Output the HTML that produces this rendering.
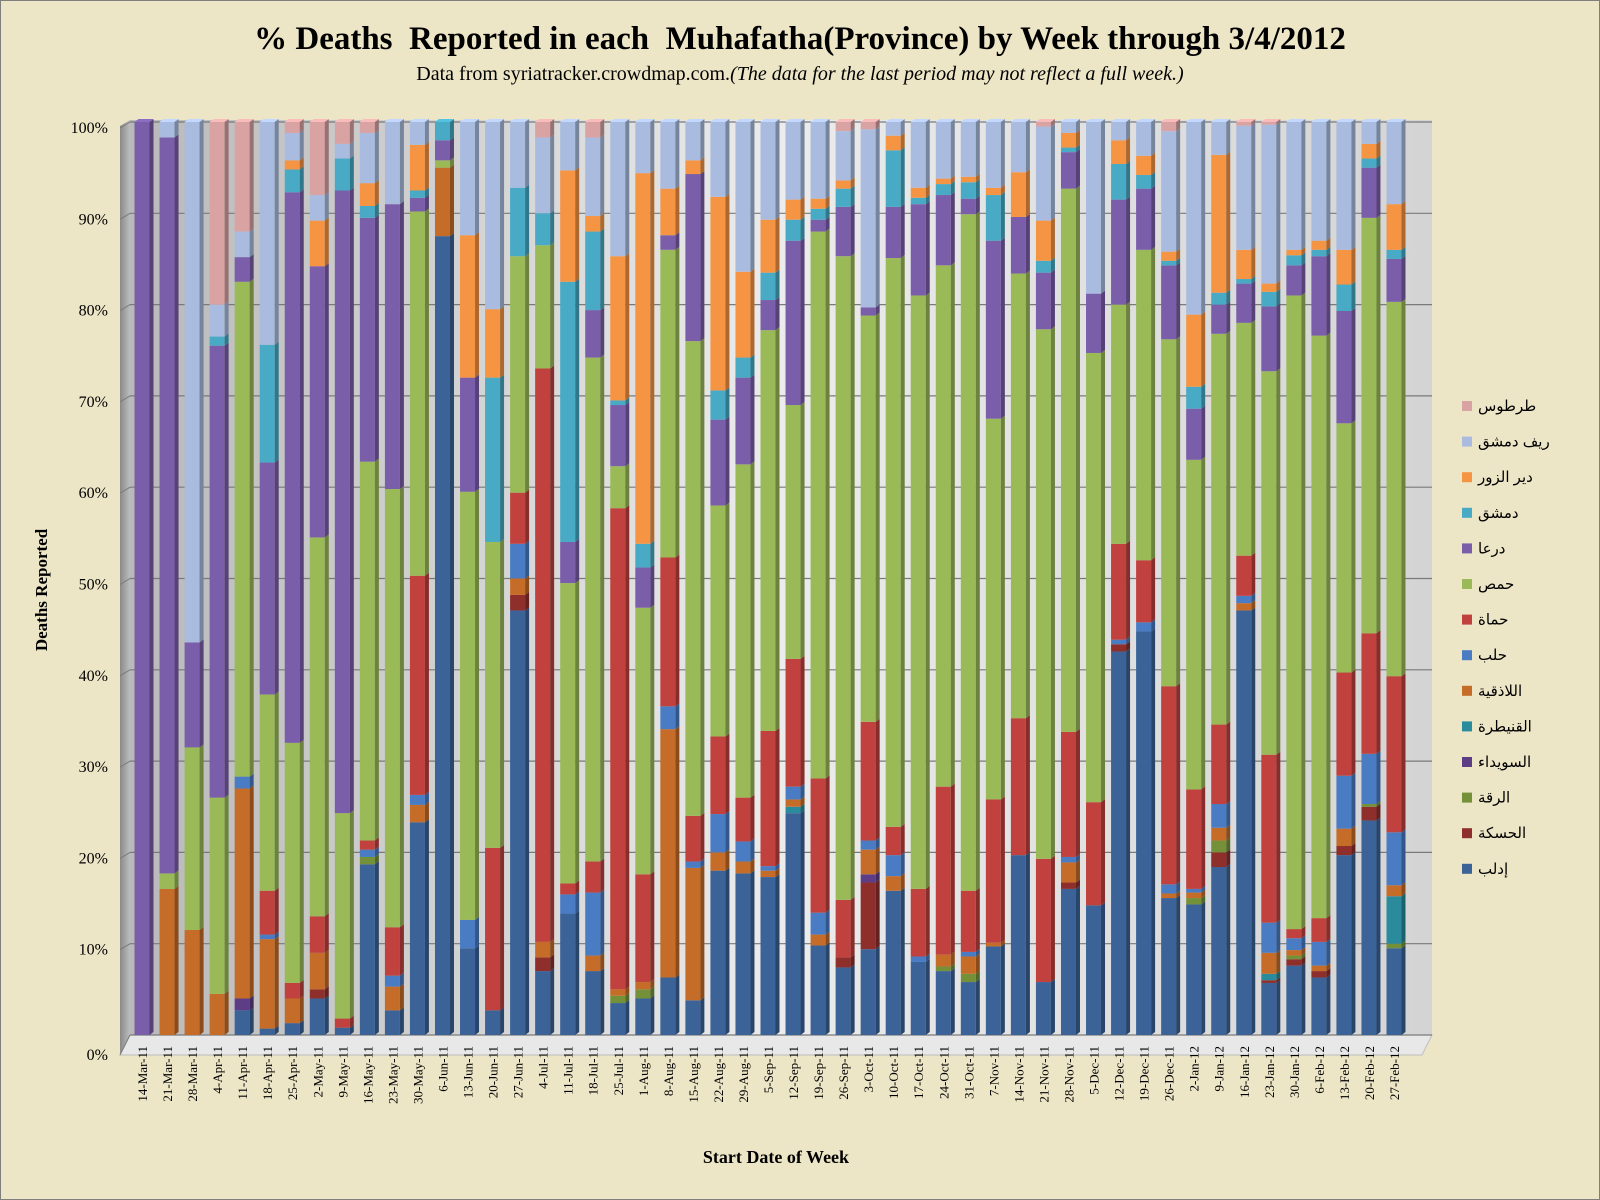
<!DOCTYPE html>
<html><head><meta charset="utf-8">
<style>
html,body{margin:0;padding:0;background:#ece5c6;}
svg{display:block;font-family:"Liberation Serif","DejaVu Serif",serif;}
.pre{white-space:pre;}
</style></head>
<body>
<svg id="chart" width="1600" height="1200" viewBox="0 0 1600 1200" xmlns="http://www.w3.org/2000/svg">
<defs>
<linearGradient id="wall" x1="0" y1="0" x2="1" y2="0">
<stop offset="0" stop-color="#b9b9b9"/><stop offset="0.5" stop-color="#ececec"/><stop offset="1" stop-color="#d4d4d4"/>
</linearGradient>
<linearGradient id="lwall" x1="0" y1="0" x2="1" y2="0">
<stop offset="0" stop-color="#8a8a8a"/><stop offset="1" stop-color="#bdbdbd"/>
</linearGradient>
</defs>
<rect x="0.5" y="0.5" width="1599" height="1199" fill="#ece5c6" stroke="#7f7f7f"/>
<text class="pre" x="800" y="49" text-anchor="middle" font-size="33" font-weight="bold" fill="#000">% Deaths  Reported in each  Muhafatha(Province) by Week through 3/4/2012</text>
<text x="800" y="80" text-anchor="middle" font-size="20" fill="#000">Data from syriatracker.crowdmap.com.<tspan font-style="italic">(The data for the last period may not reflect a full week.)</tspan></text>
<polygon points="120,126 130,120 130,1035 120,1055" fill="url(#lwall)"/>
<rect x="130" y="120" width="1302" height="915" fill="url(#wall)"/>
<polygon points="120,1055 130,1035 1432,1035 1422,1055" fill="#e8e8e8" stroke="#bdbdbd"/>
<g id="grid"></g>
<g id="yticks"></g>
<g id="bars"></g>
<g id="xticks"></g>
<g id="legend"></g>
<text transform="translate(47,590) rotate(-90)" text-anchor="middle" font-size="17" font-weight="bold">Deaths Reported</text>
<text x="776" y="1163" text-anchor="middle" font-size="18" font-weight="bold">Start Date of Week</text>
</svg>
<script>
const categories=["14-Mar-11","21-Mar-11","28-Mar-11","4-Apr-11","11-Apr-11","18-Apr-11","25-Apr-11","2-May-11","9-May-11","16-May-11","23-May-11","30-May-11","6-Jun-11","13-Jun-11","20-Jun-11","27-Jun-11","4-Jul-11","11-Jul-11","18-Jul-11","25-Jul-11","1-Aug-11","8-Aug-11","15-Aug-11","22-Aug-11","29-Aug-11","5-Sep-11","12-Sep-11","19-Sep-11","26-Sep-11","3-Oct-11","10-Oct-11","17-Oct-11","24-Oct-11","31-Oct-11","7-Nov-11","14-Nov-11","21-Nov-11","28-Nov-11","5-Dec-11","12-Dec-11","19-Dec-11","26-Dec-11","2-Jan-12","9-Jan-12","16-Jan-12","23-Jan-12","30-Jan-12","6-Feb-12","13-Feb-12","20-Feb-12","27-Feb-12"];
const seriesNames=["إدلب","الحسكة","الرقة","السويداء","القنيطرة","اللاذقية","حلب","حماة","حمص","درعا","دمشق","دير الزور","ريف دمشق","طرطوس"];
const seriesColors=["#3b6398","#8e2f2c","#74913a","#5d3d86","#2a8b9c","#c56d28","#4a7cc4","#c0413d","#9aba58","#7b5ea9","#48aac4","#f59443","#a9bcdf","#d9a3a3"];
const idlib=[0,0,0,0,2.7,0.7,1.3,4,0.8,18.7,2.7,23.3,87.5,9.5,2.7,46.5,7,13.3,7,3.5,4,6.3,3.8,18,17.7,17.3,24.3,9.8,7.4,9.4,15.8,8,7,5.8,9.7,19.7,5.8,16,14.2,42,44.2,15,14.3,18.4,46.5,5.7,7.6,6.3,19.7,23.5,9.5];
const hasakah=[0,0,0,0,0,0,0,1,0,0,0,0,0,0,0,1.7,1.5,0,0,0,0,0,0,0,0,0,0,0,1.1,7.3,0,0,0,0,0,0,0,0.7,0,0.8,0,0,0,1.6,0,0.3,0.7,0.7,1,1.5,0];
const raqqa=[0,0,0,0,0,0,0,0,0,0.8,0,0,0,0,0,0,0,0,0,0.8,1,0,0,0,0,0,0,0,0,0,0,0,0.5,0.9,0,0,0,0,0,0,0,0,0.7,1.3,0,0,0.4,0,0,0.3,0.5];
const suwayda=[0,0,0,0,1.3,0,0,0,0,0,0,0,0,0,0,0,0,0,0,0,0,0,0,0,0,0,0,0,0,0.9,0,0,0,0,0,0,0,0,0,0,0,0,0,0,0,0,0,0,0,0,0];
const quneitra=[0,0,0,0,0,0,0,0,0,0,0,0,0,0,0,0,0,0,0,0,0,0,0,0,0,0,0.7,0,0,0,0,0,0,0,0,0,0,0,0,0,0,0,0,0,0,0.7,0,0,0,0,5.2];
const latakia=[0,16,11.5,4.5,23,9.8,2.7,4,0,0,2.6,1.9,7.5,0,0,1.8,1.7,0,1.7,0.7,0.8,27.2,14.5,2,1.3,0.7,0.8,1.2,0,2.7,1.6,0,1.3,1.9,0.4,0,0,2.2,0,0,0,0.5,0.6,1.4,0.8,2.3,0.6,0.6,1.9,0,1.2];
const aleppo=[0,0,0,0,1.3,0.5,0,0,0,0.8,1.2,1.1,0,3.1,0,3.8,0,2.1,6.9,0,0,2.5,0.7,4.2,2.2,0.5,1.4,2.4,0,1,2.3,0.6,0,0.5,0,0,0,0.6,0,0.5,1,1,0.4,2.6,0.8,3.3,1.3,2.6,5.8,5.5,5.8];
const hama=[0,0,0,0,0,4.8,1.7,4,1,1,5.3,24,0,0,17.8,5.6,62.8,1.2,3.4,52.7,11.8,16.3,5,8.5,4.8,14.8,14,14.7,6.3,13,3.1,7.4,18.4,6.7,15.7,15,13.5,13.7,11.3,10.5,6.8,21.7,10.9,8.7,4.4,18.4,1,2.6,11.3,13.2,17.1];
const homs=[0,1.7,20,21.5,54.2,21.5,26.3,41.5,22.5,41.5,48,39.9,0.8,46.9,33.5,25.9,13.5,32.9,55.2,4.6,29.2,33.7,52,25.3,36.5,43.9,27.8,59.9,70.5,44.5,62.3,65,57.1,74.1,41.7,48.7,58,59.5,49.2,26.2,34,38,36.1,42.8,25.5,42,69.4,63.8,27.3,45.5,41];
const daraa=[100,80.6,11.5,49.5,2.7,25.4,60.3,29.7,68.2,26.7,31.2,1.5,2.2,12.5,0,0,0,4.5,5.2,6.7,4.4,1.6,18.3,9.4,9.5,3.3,18,1.3,5.4,0.9,5.6,10,7.7,1.7,19.5,6.2,6.2,4,6.5,11.5,6.7,8.1,5.6,3.2,4.3,7.1,3.3,8.7,12.3,5.5,4.7];
const damascus=[0,0,0,1,0,12.9,2.5,0,3.5,1.3,0,0.8,2,0,18,7.5,3.5,28.5,8.6,0.5,2.6,0,0,3.2,2.2,3,2.3,1.2,2,0,6.2,0.7,1.2,1.8,5,0,1.3,0.5,0,3.9,1.5,0.5,2.4,1.3,0.5,1.6,1.1,0.7,2.9,1,1];
const deir=[0,0,0,0,0,0,1,5,0,2.5,0,5,0,15.6,7.5,0,0,12.2,1.7,15.8,40.6,5.1,1.5,21.2,9.4,5.8,2.2,1.1,0.9,0,1.6,1.1,0.6,0.6,0.8,4.9,4.4,1.6,0,2.6,2.1,1,7.9,15.1,3.2,0.9,0.6,1,3.8,1.6,5];
const rif=[0,1.7,57,3.5,2.8,24.4,3,2.8,1.6,5.5,9,2.5,0,12.4,20.5,7.2,8.3,5.3,8.6,14.7,5.6,7.3,4.2,8.2,16.4,10.7,8.5,8.4,5.4,19.5,1.5,7.2,6.2,6,7.2,5.5,10.3,1.2,18.8,2,3.7,13.2,21.1,3.6,13.6,17.4,14,13,14,2.4,9];
const tartus=[0,0,0,20,12,0,1.2,8,2.4,1.2,0,0,0,0,0,0,1.7,0,1.7,0,0,0,0,0,0,0,0,0,1,0.8,0,0,0,0,0,0,0.5,0,0,0,0,1,0,0,0.4,0.3,0,0,0,0,0];
const yTickLabels=["0%","10%","20%","30%","40%","50%","60%","70%","80%","90%","100%"];
const seriesData=[idlib,hasakah,raqqa,suwayda,quneitra,latakia,aleppo,hama,homs,daraa,damascus,deir,rif,tartus];

const NS="http://www.w3.org/2000/svg";
const y0=1035,y1=122,x0=142,step=25.04,bw=15,dep=4;
function yScale(p){return y0-(y0-y1)*p/100;}
function xScale(i){return x0+i*step;}
function mk(tag,attrs,parent){const e=document.createElementNS(NS,tag);for(const k in attrs)e.setAttribute(k,attrs[k]);parent.appendChild(e);return e;}
function shade(hex,f){const n=parseInt(hex.slice(1),16);let r=n>>16,g=(n>>8)&255,b=n&255;r=Math.round(r*f);g=Math.round(g*f);b=Math.round(b*f);return "rgb("+Math.min(255,r)+","+Math.min(255,g)+","+Math.min(255,b)+")";}

const grid=document.getElementById('grid'),yt=document.getElementById('yticks');
yTickLabels.forEach((lab,i)=>{
  const p=i*10,y=yScale(p);
  const l=mk('line',{x1:130,x2:1432,y1:y,y2:y,stroke:'#7a7a7a','stroke-width':1.2},grid);
  
  
  const d=mk('line',{x1:120,x2:130,y1:y+(i===0?20:6),y2:y,stroke:'#7a7a7a'},grid);
  
  
  const t=mk('text',{x:108,y:y+(i===0?20:6)+5,'text-anchor':'end','font-size':16},yt);
  t.textContent=lab;
  
  
});

const bars=document.getElementById('bars');
categories.forEach((c,i)=>{
  let tot=0;seriesData.forEach(s=>tot+=s[i]);
  let cum=0;const x=xScale(i)-bw/2;
  seriesData.forEach((s,k)=>{
    const v=s[i];if(!v)return;
    const a=yScale(cum/tot*100),b=yScale((cum+v)/tot*100);cum+=v;
    const col=seriesColors[k];
    const r=mk('rect',{x:x,y:b,width:bw,height:Math.max(0,a-b),fill:col},bars);
    
    
    const sd=mk('polygon',{points:`${x+bw},${b} ${x+bw+dep},${b-3} ${x+bw+dep},${a-3} ${x+bw},${a}`,fill:shade(col,0.7)},bars);
    
    
    if(cum>=tot-1e-9){
      const tp=mk('polygon',{points:`${x},${b} ${x+bw},${b} ${x+bw+dep},${b-3} ${x+dep},${b-3}`,fill:shade(col,1.15)},bars);
      
      
    }
  });
  const t=mk('text',{transform:`translate(${xScale(i)+5},1046) rotate(-90)`,'text-anchor':'end','font-size':13},document.getElementById('xticks'));
  t.textContent=c;
  
  
});

const lg=document.getElementById('legend');
for(let k=seriesNames.length-1,j=0;k>=0;k--,j++){
  const y=407+j*35.6;
  const sw=mk('rect',{x:1462,y:y-6,width:10,height:10,fill:seriesColors[k]},lg);
  
  
  const t=mk('text',{x:1478,y:y+4,'font-size':15,'font-family':'"Liberation Sans","DejaVu Sans",sans-serif'},lg);
  t.textContent=seriesNames[k];
  
  
}
</script>
</body></html>
